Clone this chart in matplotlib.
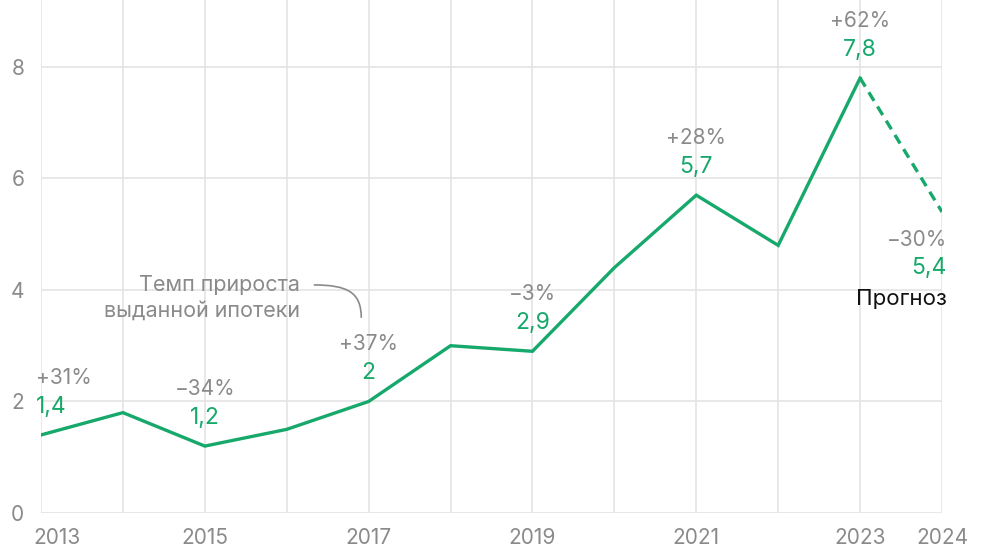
import matplotlib
matplotlib.use("Agg")
import matplotlib.pyplot as plt
from matplotlib.path import Path
from matplotlib.patches import PathPatch

years = [2013, 2014, 2015, 2016, 2017, 2018, 2019, 2020, 2021, 2022, 2023, 2024]
values = [1.4, 1.8, 1.2, 1.5, 2.0, 3.0, 2.9, 4.4, 5.7, 4.8, 7.8, 5.4]
label_years = [2013, 2015, 2017, 2019, 2021, 2023, 2024]
value_labels = ["1,4", "1,2", "2", "2,9", "5,7", "7,8", "5,4"]
growth_labels = ["+31%", "\u221234%", "+37%", "\u22123%", "+28%", "+62%", "\u221230%"]
xtick_labels = ["2013", "2015", "2017", "2019", "2021", "2023", "2024"]
yticks = [0, 2, 4, 6, 8]

GREEN = "#17a86b"
GRAY = "#8a8a8a"
GRID = "#e4e4e4"

plt.rcParams['font.family'] = ['Inter', 'DejaVu Sans']

fig = plt.figure(figsize=(9.88, 5.57), dpi=100)
ax = fig.add_axes([41/988, 1-513/557, (942-41)/988, 513/557])
ax.set_xlim(2013, 2024)
ax.set_ylim(0, 9.2)

for s in ax.spines.values():
    s.set_visible(False)
ax.set_xticks(label_years)
ax.set_xticklabels(xtick_labels)
ax.set_yticks(yticks)
ax.tick_params(axis='both', length=0, labelsize=15, colors=GRAY)
ax.tick_params(axis='x', pad=11)
ax.tick_params(axis='y', pad=12)
first = ax.get_xticklabels()[0]
first.set_ha('left')
first.set_x(2013)
from matplotlib.transforms import ScaledTranslation
first.set_transform(first.get_transform() + ScaledTranslation(-8/100, 0, fig.dpi_scale_trans))

for y in yticks:
    ax.axhline(y, color=GRID, lw=1.2, zorder=0)
for yr in years:
    ax.axvline(yr, color=GRID, lw=1.2, zorder=0)

ax.plot(years[:-1], values[:-1], color=GREEN, lw=2.4, solid_joinstyle='miter', zorder=3)
ax.plot(years[-2:], values[-2:], color=GREEN, lw=2.4, ls=(0, (3, 2)), zorder=3)

vals = dict(zip(years, values))
for yr, vl, gl in zip(label_years, value_labels, growth_labels):
    v = vals[yr]
    if yr == 2013:
        ha, dx = 'left', -5
    elif yr == 2024:
        ha, dx = 'right', 5
    else:
        ha, dx = 'center', 0
    if yr == 2024:
        ax.annotate(gl, (yr, v), xytext=(dx, -28), textcoords='offset pixels',
                    ha=ha, va='center', fontsize=15, color=GRAY)
        ax.annotate(vl, (yr, v), xytext=(dx, -56), textcoords='offset pixels',
                    ha=ha, va='center', fontsize=16.5, color=GREEN)
        ax.annotate("Прогноз", (yr, v), xytext=(dx, -87), textcoords='offset pixels',
                    ha=ha, va='center', fontsize=16, color='#111111')
    else:
        ax.annotate(vl, (yr, v), xytext=(dx, 28), textcoords='offset pixels',
                    ha=ha, va='center', fontsize=16.5, color=GREEN)
        ax.annotate(gl, (yr, v), xytext=(dx, 57), textcoords='offset pixels',
                    ha=ha, va='center', fontsize=15, color=GRAY)

ax.text(2016.16, 3.86, "Темп прироста\nвыданной ипотеки", ha='right', va='center',
        fontsize=15.5, color=GRAY, linespacing=1.4)

verts = [(2016.33, 4.09), (2016.75, 4.09), (2016.91, 3.95), (2016.91, 3.5)]
codes = [Path.MOVETO, Path.CURVE4, Path.CURVE4, Path.CURVE4]
ax.add_patch(PathPatch(Path(verts, codes), fill=False, edgecolor=GRAY, lw=1.2, zorder=2))

fig.savefig("out.png", dpi=100, facecolor='white')
